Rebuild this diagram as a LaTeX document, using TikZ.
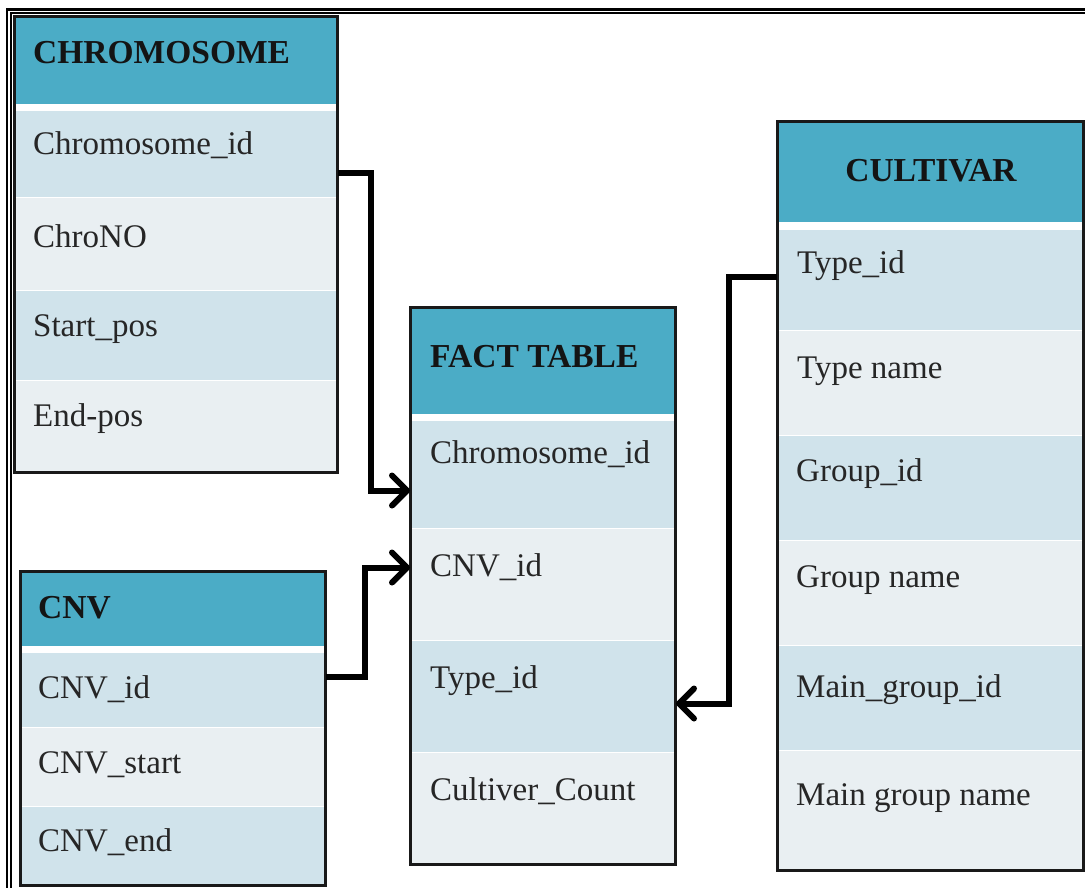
\documentclass[tikz,border=0pt]{standalone}
\usepackage{fontspec}
\setmainfont{Liberation Serif}
\usetikzlibrary{arrows.meta}
\definecolor{hdrteal}{HTML}{4BACC6}
\definecolor{rowdark}{HTML}{D0E3EB}
\definecolor{rowlight}{HTML}{E9EFF2}
\newcommand\tblrow[6]{\node[#6, minimum width=#4pt, minimum height=#5pt] (#1) at (#2,#3) {};}
\begin{document}
\begin{tikzpicture}[x=1pt,y=-1pt,
  cellbase/.style={draw=white, line width=1pt, inner sep=0pt, anchor=north west},
  hdr/.style={cellbase, fill=hdrteal, draw=none},
  dk/.style={cellbase, fill=rowdark},
  lt/.style={cellbase, fill=rowlight},
  tbl/.style={draw=black!90, line width=3pt},
  txt/.style={inner sep=0pt, anchor=base west, font=\fontsize{33}{38}\selectfont, text=black!85},
  htxt/.style={inner sep=0pt, anchor=base west, font=\fontsize{33.5}{38}\selectfont\bfseries, text=black!92},
  conn/.style={line width=6pt, line join=miter, -{Straight Barb[length=15pt,width=30pt,line cap=round,line join=round]}},
  frame/.style={black}
]
\useasboundingbox (0,0) rectangle (1085,887);
% outer frame
\draw[frame, line width=2.5pt] (6,9.5) -- (1090,9.5);
\draw[frame, line width=1.5pt] (10,13) -- (1090,13);
\draw[frame, line width=2pt] (7,9) -- (7,890);
\draw[frame, line width=2pt] (11,12.5) -- (11,890);

% CHROMOSOME
\tblrow{chrh}{14}{16}{323}{87}{hdr}
\tblrow{chr1}{14}{110}{323}{87}{dk}
\tblrow{chr2}{14}{197}{323}{93}{lt}
\tblrow{chr3}{14}{290}{323}{90}{dk}
\tblrow{chr4}{14}{380}{323}{92}{lt}
\draw[tbl] (14,16) rectangle (337,472);
\node[htxt] (chrht) at (33,63) {CHROMOSOME};
\node[txt] (chr1t) at (33,154) {Chromosome\_id};
\node[txt] (chr2t) at (33,247) {ChroNO};
\node[txt] (chr3t) at (33,336) {Start\_pos};
\node[txt] (chr4t) at (33,426) {End-pos};

% FACT TABLE
\tblrow{fh}{410}{307}{265}{106}{hdr}
\tblrow{f1}{410}{420}{265}{108}{dk}
\tblrow{f2}{410}{528}{265}{112}{lt}
\tblrow{f3}{410}{640}{265}{112}{dk}
\tblrow{f4}{410}{752}{265}{112}{lt}
\draw[tbl] (410,307) rectangle (675,864);
\node[htxt] (fht) at (430,367) {FACT TABLE};
\node[txt] (f1t) at (430,463) {Chromosome\_id};
\node[txt] (f2t) at (430,576) {CNV\_id};
\node[txt] (f3t) at (430,688) {Type\_id};
\node[txt] (f4t) at (430,800) {Cultiver\_Count};

% CULTIVAR
\tblrow{cuh}{777}{121}{306}{100}{hdr}
\tblrow{cu1}{777}{229}{306}{101}{dk}
\tblrow{cu2}{777}{330}{306}{105}{lt}
\tblrow{cu3}{777}{435}{306}{105}{dk}
\tblrow{cu4}{777}{540}{306}{105}{lt}
\tblrow{cu5}{777}{645}{306}{105}{dk}
\tblrow{cu6}{777}{750}{306}{120}{lt}
\draw[tbl] (777,121) rectangle (1083,870);
\node[htxt, anchor=base] (cuht) at (931,181) {CULTIVAR};
\node[txt] (cu1t) at (797,273) {Type\_id};
\node[txt] (cu2t) at (797,378) {Type name};
\node[txt] (cu3t) at (796,481) {Group\_id};
\node[txt] (cu4t) at (796,587) {Group name};
\node[txt] (cu5t) at (796,697) {Main\_group\_id};
\node[txt] (cu6t) at (796,805) {Main group name};

% CNV
\tblrow{cnvh}{20}{571}{305}{74}{hdr}
\tblrow{cnv1}{20}{652}{305}{75}{dk}
\tblrow{cnv2}{20}{727}{305}{79}{lt}
\tblrow{cnv3}{20}{806}{305}{79}{dk}
\draw[tbl] (20,571) rectangle (325,885);
\node[htxt] (cnvht) at (38,618) {CNV};
\node[txt] (cnv1t) at (38,698) {CNV\_id};
\node[txt] (cnv2t) at (38,773) {CNV\_start};
\node[txt] (cnv3t) at (38,851) {CNV\_end};

% connectors
\draw[conn] ([yshift=-18.5pt]chr1.east) -- ++(33,0) |- ([yshift=-16pt]f1.west);
\draw[conn] ([yshift=13.5pt]cnv1.east) -- ++(39,0) |- ([yshift=17pt]f2.west);
\draw[conn] ([yshift=3.5pt]cu1.west) -- ++(-48,0) |- ([yshift=-7pt]f3.east);
\end{tikzpicture}
\end{document}
